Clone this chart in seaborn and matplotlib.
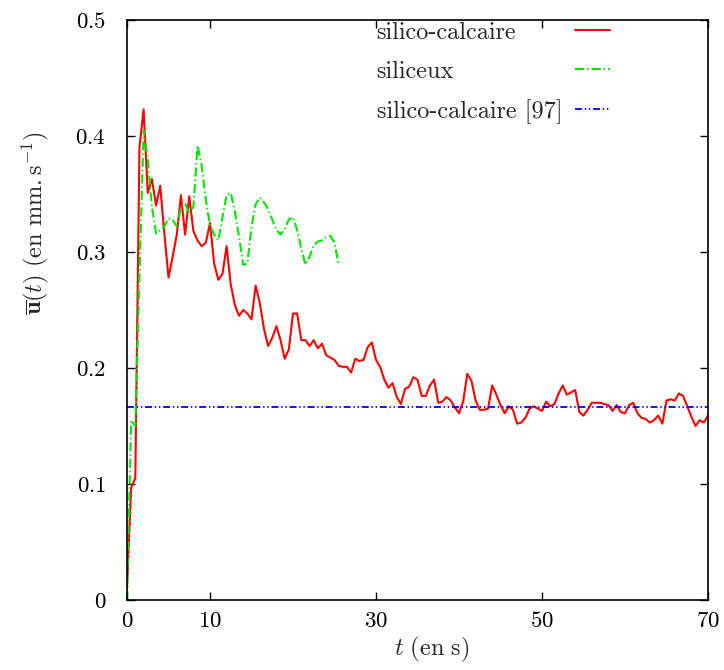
import numpy as np
import pandas as pd
import matplotlib
matplotlib.use("Agg")
import matplotlib.pyplot as plt
import seaborn as sns

# ---------------- data ----------------
dt = 0.5  # sampling step (s)
silico_calcaire = [
    0.010, 0.097, 0.105, 0.390, 0.423, 0.351, 0.363, 0.340, 0.357, 0.316,
    0.278, 0.296, 0.315, 0.349, 0.315, 0.348, 0.318, 0.310, 0.305, 0.308,
    0.325, 0.290, 0.276, 0.281, 0.305, 0.272, 0.254, 0.245, 0.250, 0.247,
    0.242, 0.271, 0.256, 0.234, 0.219, 0.226, 0.236, 0.224, 0.208, 0.216,
    0.247, 0.247, 0.224, 0.224, 0.219, 0.224, 0.217, 0.221, 0.211, 0.209,
    0.207, 0.202, 0.201, 0.201, 0.196, 0.208, 0.206, 0.207, 0.218, 0.222,
    0.207, 0.201, 0.190, 0.183, 0.187, 0.175, 0.169, 0.182, 0.184, 0.192,
    0.190, 0.176, 0.176, 0.185, 0.190, 0.170, 0.171, 0.175, 0.172, 0.166,
    0.161, 0.171, 0.195, 0.189, 0.172, 0.164, 0.164, 0.165, 0.185, 0.177,
    0.168, 0.161, 0.167, 0.164, 0.152, 0.153, 0.157, 0.165, 0.167, 0.165,
    0.163, 0.171, 0.167, 0.169, 0.178, 0.185, 0.177, 0.179, 0.181, 0.162,
    0.159, 0.164, 0.170, 0.170, 0.170, 0.169, 0.168, 0.163, 0.168, 0.162,
    0.161, 0.168, 0.170, 0.161, 0.157, 0.156, 0.153, 0.155, 0.159, 0.152,
    0.172, 0.173, 0.172, 0.178, 0.176, 0.167, 0.158, 0.150, 0.155, 0.153,
    0.159,
]
siliceux = [
    0.000, 0.155, 0.150, 0.280, 0.405, 0.380, 0.339, 0.316, 0.319, 0.322,
    0.329, 0.328, 0.322, 0.338, 0.342, 0.333, 0.339, 0.392, 0.374, 0.345,
    0.323, 0.315, 0.310, 0.330, 0.349, 0.351, 0.335, 0.313, 0.289, 0.290,
    0.322, 0.341, 0.347, 0.343, 0.337, 0.328, 0.319, 0.315, 0.320, 0.328,
    0.330, 0.319, 0.303, 0.289, 0.296, 0.306, 0.309, 0.310, 0.313, 0.314,
    0.308, 0.289,
]
ref_t = [0.0, 70.0]
ref_value = [0.166, 0.166]

labels = ["silico-calcaire", "siliceux", "silico-calcaire [97]"]
xticks = [0, 10, 30, 50, 70]
xtick_labels = ["0", "10", "30", "50", "70"]
yticks = [0, 0.1, 0.2, 0.3, 0.4, 0.5]
ytick_labels = ["0", "0.1", "0.2", "0.3", "0.4", "0.5"]

df_sc = pd.DataFrame({"t": np.arange(len(silico_calcaire)) * dt, "u": silico_calcaire})
df_si = pd.DataFrame({"t": np.arange(len(siliceux)) * dt, "u": siliceux})
df_ref = pd.DataFrame({"t": ref_t, "u": ref_value})

# ---------------- style ----------------
sns.set_style("ticks")
plt.rcParams["mathtext.fontset"] = "cm"
plt.rcParams["font.family"] = ["cmr10", "DejaVu Serif"]
plt.rcParams["axes.unicode_minus"] = False
plt.rcParams["lines.scale_dashes"] = False

FS = 16.5
FS_TXT = 17.5
fig = plt.figure(figsize=(7.24, 6.70), dpi=100)
ax = fig.add_axes([127 / 724, 1 - 600 / 670, 581 / 724, 580 / 670])

sns.lineplot(data=df_sc, x="t", y="u", ax=ax, color="#ff0000", linewidth=1.5,
             label=labels[0], estimator=None, sort=False)
sns.lineplot(data=df_si, x="t", y="u", ax=ax, color="#00e600", linewidth=1.5,
             label=labels[1], estimator=None, sort=False,
             linestyle=(0, (6.5, 2.2, 1.0, 2.2)))
sns.lineplot(data=df_ref, x="t", y="u", ax=ax, color="#0000ff", linewidth=1.3,
             label=labels[2], estimator=None, sort=False,
             linestyle=(0, (5.0, 2.0, 1.0, 2.0, 1.0, 2.0)))

ax.set_xlim(0, 70)
ax.set_ylim(0, 0.5)
ax.set_xticks(xticks)
ax.set_xticklabels([f"${s}$" for s in xtick_labels])
ax.set_yticks(yticks)
ax.set_yticklabels([f"${s}$" for s in ytick_labels])
ax.tick_params(axis="both", direction="in", length=6, width=1.0, top=True,
               right=True, labelsize=FS, colors="black")
ax.tick_params(axis="y", pad=15)
ax.tick_params(axis="x", pad=8)
for sp in ax.spines.values():
    sp.set_linewidth(1.2)
    sp.set_color("black")

ax.set_xlabel(r"$t\ (\mathrm{en\ s})$", fontsize=FS_TXT)
ax.set_ylabel(r"$\overline{\mathbf{u}}(t)\ (\mathrm{en\ mm{.}s}^{-1})$", fontsize=FS_TXT)
ax.xaxis.set_label_coords(0.525, -0.060)
ax.yaxis.set_label_coords(-0.130, 0.650)

leg = ax.legend(loc="upper right", bbox_to_anchor=(0.831, 0.997),
                bbox_transform=ax.transAxes, markerfirst=False, frameon=False,
                prop={"family": ["cmr10", "DejaVu Serif"], "size": FS_TXT},
                handlelength=1.45, handletextpad=0.51, labelspacing=0.68,
                borderpad=0, borderaxespad=0)

# left-align label texts while keeping handles right-aligned
fig.canvas.draw()
renderer = fig.canvas.get_renderer()
widths = [t.get_window_extent(renderer).width for t in leg.get_texts()]
maxw = max(widths)
col = leg._legend_handle_box.get_children()[0]
for row, w in zip(col.get_children(), widths):
    row.sep = row.sep + (maxw - w) * 72.0 / fig.dpi

fig.savefig("out.png", dpi=100)
